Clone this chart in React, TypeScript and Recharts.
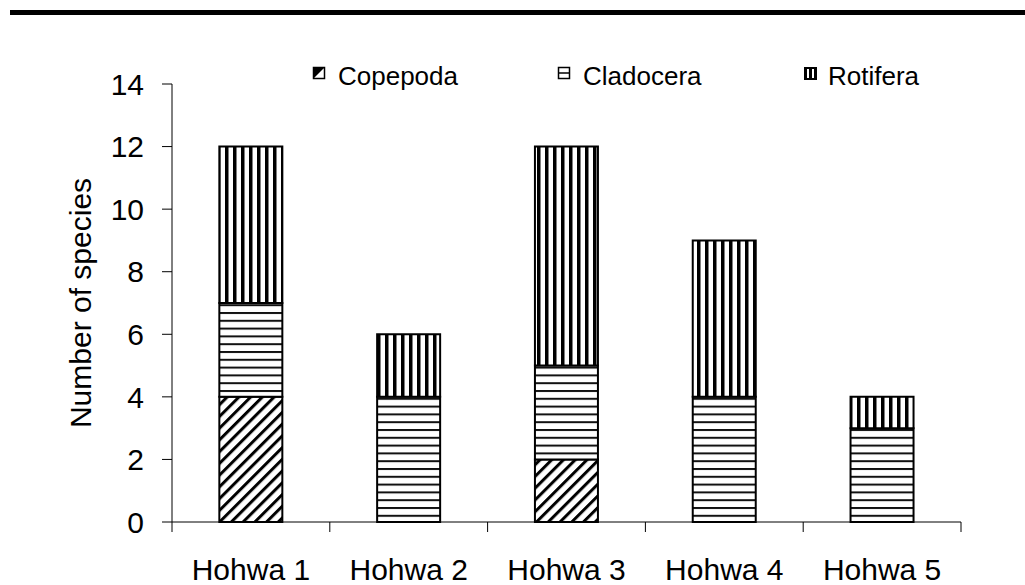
import { BarChart, Bar, XAxis, YAxis, Label } from "recharts";

const sites = ["Hohwa 1", "Hohwa 2", "Hohwa 3", "Hohwa 4", "Hohwa 5"];
const copepoda = [4, 0, 2, 0, 0];
const cladocera = [3, 4, 3, 4, 3];
const rotifera = [5, 2, 7, 5, 1];
const yTicks = [0, 2, 4, 6, 8, 10, 12, 14];

const data = sites.map((site, i) => ({
  site,
  copepoda: copepoda[i],
  cladocera: cladocera[i],
  rotifera: rotifera[i],
}));

const FONT = '"Liberation Sans", Arial, sans-serif';

function SiteTick(props: any) {
  const { x, y, payload, index, visibleTicksCount } = props;
  const half = payload?.offset ?? 78.9;
  const axisY = y - 37;
  return (
    <g>
      <line x1={x - half} y1={axisY} x2={x - half} y2={axisY + 10} stroke="#000" />
      {index === visibleTicksCount - 1 && (
        <line x1={x + half} y1={axisY} x2={x + half} y2={axisY + 10} stroke="#000" />
      )}
      <text x={x} y={y} dy="0.71em" textAnchor="middle" fontSize={30} fontFamily={FONT} fill="#000">
        {payload.value}
      </text>
    </g>
  );
}

function LegendOverlay() {
  return (
    <svg
      width={1025}
      height={585}
      style={{ position: "absolute", left: 0, top: 0, pointerEvents: "none" }}
    >
      {/* Copepoda icon */}
      <rect x={313.5} y={67.5} width={11} height={11} fill="#fff" stroke="#000" strokeWidth={1.5} />
      <polygon points="313.5,67.5 324.5,67.5 313.5,78.5" fill="#000" />
      <text x={338} y={85} fontSize={26} fontFamily={FONT} fill="#000">
        Copepoda
      </text>
      {/* Cladocera icon */}
      <rect x={558.5} y={67.5} width={11} height={11} fill="#fff" stroke="#000" strokeWidth={1.5} />
      <line x1={558.5} y1={73} x2={569.5} y2={73} stroke="#000" strokeWidth={1.5} />
      <text x={583} y={85} fontSize={26} fontFamily={FONT} fill="#000">
        Cladocera
      </text>
      {/* Rotifera icon */}
      <rect x={804} y={67} width={13} height={13} fill="#000" />
      <rect x={807} y={69} width={2} height={9} fill="#fff" />
      <rect x={812} y={69} width={2} height={9} fill="#fff" />
      <text x={828} y={85} fontSize={26} fontFamily={FONT} fill="#000">
        Rotifera
      </text>
    </svg>
  );
}

export default function App() {
  return (
    <div style={{ position: "absolute", left: 0, top: 0, width: 1025, height: 585, background: "#fff" }}>
      <div style={{ position: "absolute", left: 10, top: 10, width: 1015, height: 5, background: "#000" }} />
      <BarChart
        width={1025}
        height={585}
        data={data}
        margin={{ top: 84, right: 64, bottom: 0, left: 0 }}
        barCategoryGap="30%"
      >
        <defs>
          <pattern id="vert" patternUnits="userSpaceOnUse" width={8} height={8}>
            <rect width={8} height={8} fill="#fff" />
            <rect x={1} width={3.5} height={8} fill="#000" />
          </pattern>
          <pattern id="horiz" patternUnits="userSpaceOnUse" width={8} height={7.8}>
            <rect width={8} height={7.8} fill="#fff" />
            <rect y={0} width={8} height={2} fill="#111" />
          </pattern>
          <pattern
            id="diag"
            patternUnits="userSpaceOnUse"
            width={8.3}
            height={8.3}
            patternTransform="rotate(45)"
          >
            <rect width={8.3} height={8.3} fill="#fff" />
            <rect x={0} width={3} height={8.3} fill="#000" />
          </pattern>
        </defs>
        <XAxis
          dataKey="site"
          height={63}
          axisLine={{ stroke: "#000" }}
          tickLine={false}
          tickSize={10}
          tickMargin={27}
          tick={<SiteTick />}
          interval={0}
        />
        <YAxis
          width={172}
          domain={[0, 14]}
          ticks={yTicks}
          interval={0}
          axisLine={{ stroke: "#000" }}
          tickLine={{ stroke: "#000" }}
          tickSize={10}
          tickMargin={18}
          tick={{ fill: "#000", fontSize: 30, fontFamily: FONT }}
        >
          <Label
            content={() => (
              <text
                x={80}
                y={303}
                transform="rotate(-90, 80, 303)"
                textAnchor="middle"
                dominantBaseline="central"
                fontSize={30}
                fontFamily={FONT}
                fill="#000"
              >
                Number of species
              </text>
            )}
          />
        </YAxis>
        <Bar dataKey="copepoda" stackId="a" fill="url(#diag)" stroke="#000" strokeWidth={2} isAnimationActive={false} />
        <Bar dataKey="cladocera" stackId="a" fill="url(#horiz)" stroke="#000" strokeWidth={2} isAnimationActive={false} />
        <Bar dataKey="rotifera" stackId="a" fill="url(#vert)" stroke="#000" strokeWidth={2} isAnimationActive={false} />
      </BarChart>
      <LegendOverlay />
    </div>
  );
}
